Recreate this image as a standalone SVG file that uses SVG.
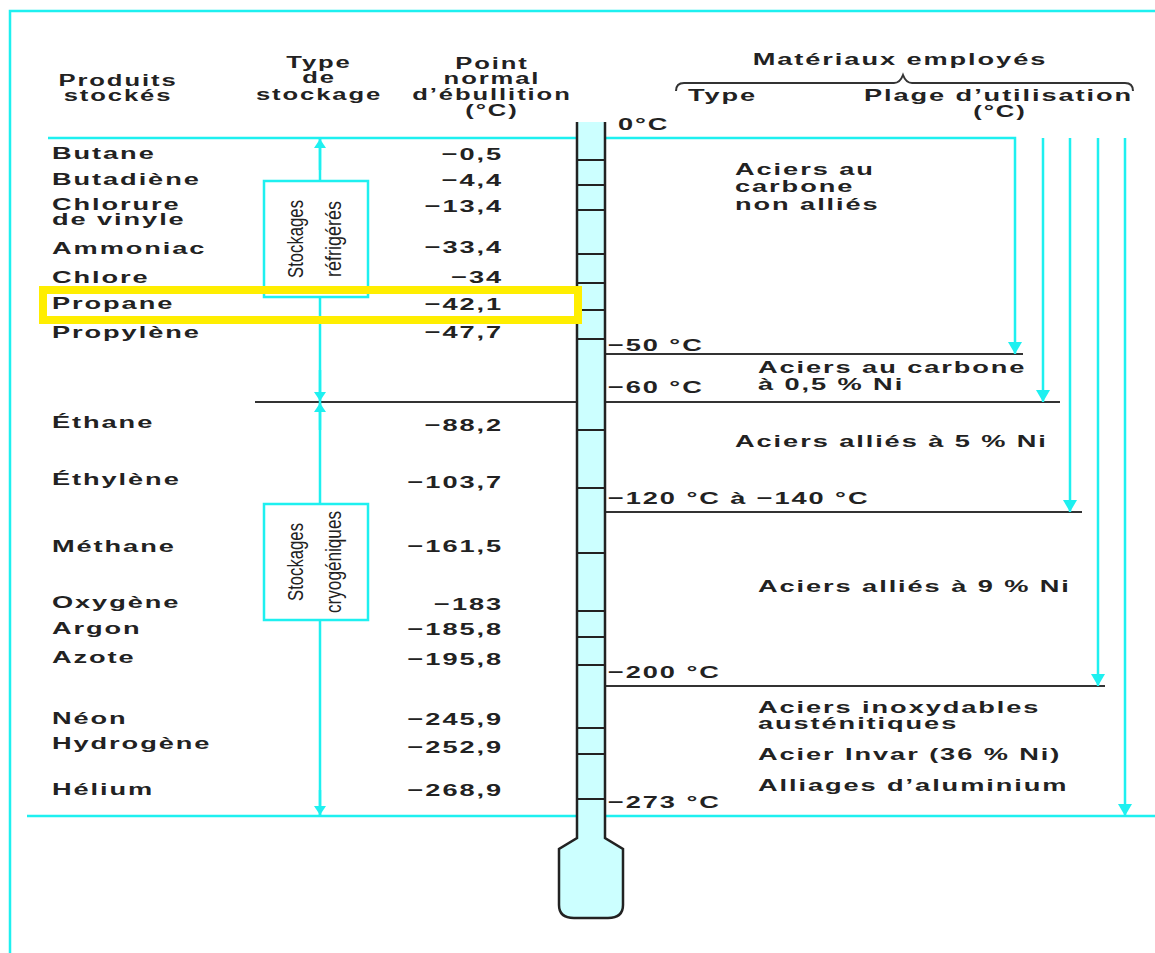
<svg xmlns="http://www.w3.org/2000/svg" width="1155" height="953" viewBox="0 0 1155 953">
<defs>
<style>
.cy{fill:none;stroke:#1ef0f0;stroke-width:2.5}
.bk{fill:none;stroke:#333;stroke-width:2}
.box{fill:#fff;stroke:#1ef0f0;stroke-width:2.5}
.t{font-family:"Liberation Sans",Arial,sans-serif;font-weight:bold;font-size:17px;letter-spacing:1.2px;fill:#222}
.h{font-size:16px}
.e{text-anchor:end}
.m{text-anchor:middle}
.r{font-family:"Liberation Sans",Arial,sans-serif;font-size:22px;fill:#222;text-anchor:middle}
.tick{stroke:#222;stroke-width:2}
</style>
<marker id="ah" viewBox="0 0 12 14" refX="12" refY="7" markerWidth="12" markerHeight="14" markerUnits="userSpaceOnUse" orient="auto"><path d="M0,0 L12,7 L0,14 Z" fill="#1ef0f0"/></marker>
<marker id="as" viewBox="0 0 9 12" refX="9" refY="6" markerWidth="9" markerHeight="12" markerUnits="userSpaceOnUse" orient="auto"><path d="M0,0 L9,6 L0,12 Z" fill="#1ef0f0"/></marker>
</defs>
<rect width="1155" height="953" fill="#fff"/>
<path class="cy" d="M10,953 V11 H1155"/>

<g id="connectors">
<path class="bk" d="M255,402 H1060"/>
<path class="bk" d="M605,354 H1023"/>
<path class="bk" d="M605,512 H1082"/>
<path class="bk" d="M605,686 H1105"/>
<path class="cy" d="M48,138 H577"/>
<path class="cy" d="M27,816 H1155"/>
<path class="cy" d="M605,138 H1015 V354" marker-end="url(#ah)"/>
<path class="cy" d="M1043,138 V402" marker-end="url(#ah)"/>
<path class="cy" d="M1070,138 V512" marker-end="url(#ah)"/>
<path class="cy" d="M1098,138 V686" marker-end="url(#ah)"/>
<path class="cy" d="M1125,138 V816" marker-end="url(#ah)"/>
<path class="cy" d="M320,138 V816"/>
<path class="cy" d="M320,170 V139" marker-end="url(#as)"/>
<path class="cy" d="M320,370 V401" marker-end="url(#as)"/>
<path class="cy" d="M320,430 V403" marker-end="url(#as)"/>
<path class="cy" d="M320,790 V815" marker-end="url(#as)"/>
<path class="bk" d="M676,91 Q676,83 684,83 L894,83 Q900,83 903,75 Q906,83 912,83 L1125,83 Q1133,83 1133,91"/>
</g>

<g id="box-refrigeres">
<rect class="box" x="264" y="181" width="104" height="116"/>
<text class="r" transform="translate(303,239) rotate(-90)" textLength="78" lengthAdjust="spacingAndGlyphs">Stockages</text>
<text class="r" transform="translate(341,239) rotate(-90)" textLength="76" lengthAdjust="spacingAndGlyphs">réfrigérés</text>
</g>
<g id="box-cryogeniques">
<rect class="box" x="264" y="504" width="104" height="116"/>
<text class="r" transform="translate(303,562) rotate(-90)" textLength="78" lengthAdjust="spacingAndGlyphs">Stockages</text>
<text class="r" transform="translate(341,562) rotate(-90)" textLength="102" lengthAdjust="spacingAndGlyphs">cryogéniques</text>
</g>

<g id="thermometre">
<path d="M577,122 V838 L559,849 V905 Q559,918 574,918 H608 Q623,918 623,905 V849 L605,838 V122" fill="#ccffff" stroke="#222" stroke-width="2.5"/>
<g class="tick">
<line x1="577" x2="605" y1="160" y2="160"/>
<line x1="577" x2="605" y1="185" y2="185"/>
<line x1="577" x2="605" y1="210" y2="210"/>
<line x1="577" x2="605" y1="254" y2="254"/>
<line x1="577" x2="605" y1="283" y2="283"/>
<line x1="577" x2="605" y1="310" y2="310"/>
<line x1="577" x2="605" y1="339" y2="339"/>
<line x1="577" x2="605" y1="430" y2="430"/>
<line x1="577" x2="605" y1="488" y2="488"/>
<line x1="577" x2="605" y1="553" y2="553"/>
<line x1="577" x2="605" y1="611" y2="611"/>
<line x1="577" x2="605" y1="637" y2="637"/>
<line x1="577" x2="605" y1="665" y2="665"/>
<line x1="577" x2="605" y1="728" y2="728"/>
<line x1="577" x2="605" y1="754" y2="754"/>
<line x1="577" x2="605" y1="799" y2="799"/>
</g>
</g>

<rect id="surlignage-propane" x="43" y="290" width="535" height="30" fill="none" stroke="#ffee00" stroke-width="8"/>

<g transform="scale(1.6 1)">
<g id="entetes">
<text class="t h m" x="73.75" y="86">Produits</text>
<text class="t h m" x="73.75" y="101">stockés</text>
<text class="t h m" x="199.4" y="68">Type</text>
<text class="t h m" x="199.4" y="83">de</text>
<text class="t h m" x="199.4" y="100">stockage</text>
<text class="t h m" x="307.5" y="69">Point</text>
<text class="t h m" x="307.5" y="84">normal</text>
<text class="t h m" x="307.5" y="100">d’ébullition</text>
<text class="t h m" x="307.5" y="116">(°C)</text>
<text class="t m" x="562.5" y="65">Matériaux employés</text>
<text class="t" x="430" y="101">Type</text>
<text class="t" x="540" y="101">Plage d’utilisation</text>
<text class="t h m" x="625" y="117">(°C)</text>
</g>
<g id="produits">
<text class="t" x="32.5" y="159">Butane</text>
<text class="t" x="32.5" y="185">Butadiène</text>
<text class="t" x="32.5" y="210">Chlorure</text>
<text class="t" x="32.5" y="225">de vinyle</text>
<text class="t" x="32.5" y="254">Ammoniac</text>
<text class="t" x="32.5" y="283">Chlore</text>
<text class="t" x="32.5" y="309">Propane</text>
<text class="t" x="32.5" y="338">Propylène</text>
<text class="t" x="32.5" y="428">Éthane</text>
<text class="t" x="32.5" y="485">Éthylène</text>
<text class="t" x="32.5" y="552">Méthane</text>
<text class="t" x="32.5" y="608">Oxygène</text>
<text class="t" x="32.5" y="634">Argon</text>
<text class="t" x="32.5" y="663">Azote</text>
<text class="t" x="32.5" y="724">Néon</text>
<text class="t" x="32.5" y="749">Hydrogène</text>
<text class="t" x="32.5" y="795">Hélium</text>
</g>
<g id="ebullition">
<text class="t e" x="314.4" y="160">−0,5</text>
<text class="t e" x="314.4" y="186">−4,4</text>
<text class="t e" x="314.4" y="212">−13,4</text>
<text class="t e" x="314.4" y="253">−33,4</text>
<text class="t e" x="314.4" y="283">−34</text>
<text class="t e" x="314.4" y="310">−42,1</text>
<text class="t e" x="314.4" y="338">−47,7</text>
<text class="t e" x="314.4" y="431">−88,2</text>
<text class="t e" x="314.4" y="488">−103,7</text>
<text class="t e" x="314.4" y="552">−161,5</text>
<text class="t e" x="314.4" y="610">−183</text>
<text class="t e" x="314.4" y="635">−185,8</text>
<text class="t e" x="314.4" y="665">−195,8</text>
<text class="t e" x="314.4" y="725">−245,9</text>
<text class="t e" x="314.4" y="753">−252,9</text>
<text class="t e" x="314.4" y="796">−268,9</text>
</g>
<g id="temperatures">
<text class="t" x="386.25" y="130">0°C</text>
<text class="t" x="380" y="351">−50 °C</text>
<text class="t" x="380" y="393">−60 °C</text>
<text class="t" x="380" y="504">−120 °C à −140 °C</text>
<text class="t" x="380" y="678">−200 °C</text>
<text class="t" x="380" y="808">−273 °C</text>
</g>
<g id="materiaux">
<text class="t" x="459.4" y="175">Aciers au</text>
<text class="t" x="459.4" y="192">carbone</text>
<text class="t" x="459.4" y="210">non alliés</text>
<text class="t" x="473.75" y="373">Aciers au carbone</text>
<text class="t" x="473.75" y="390">à 0,5 % Ni</text>
<text class="t" x="459.4" y="447">Aciers alliés à 5 % Ni</text>
<text class="t" x="473.75" y="592">Aciers alliés à 9 % Ni</text>
<text class="t" x="473.75" y="713">Aciers inoxydables</text>
<text class="t" x="473.75" y="729">austénitiques</text>
<text class="t" x="473.75" y="760">Acier Invar (36 % Ni)</text>
<text class="t" x="473.75" y="791">Alliages d’aluminium</text>
</g>
</g>
</svg>
